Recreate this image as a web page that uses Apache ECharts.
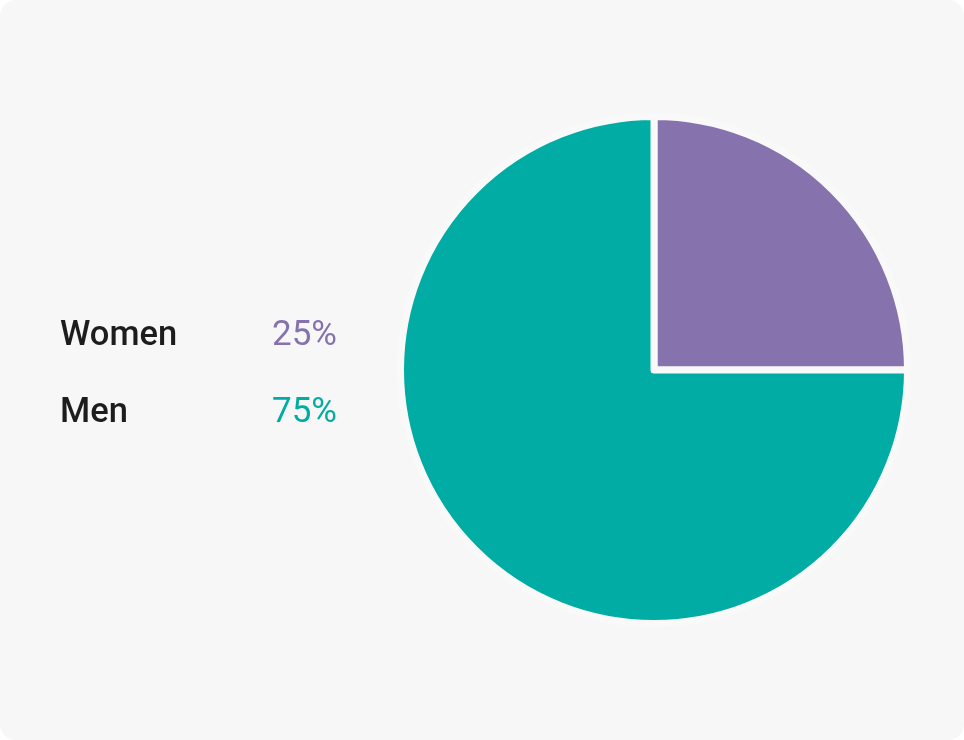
<!DOCTYPE html>
<html>
<head>
<meta charset="utf-8">
<script src="https://cdn.jsdelivr.net/npm/echarts@6/dist/echarts.min.js"></script>
<style>
html,body{margin:0;padding:0;background:#ffffff;}
#chart{width:964px;height:740px;background:#f7f7f7;border-radius:16px;overflow:hidden;}
</style>
</head>
<body>
<div id="chart"></div>
<script>
const categories = ['Women', 'Men'];
const values = [25, 75];
const colors = ['#8673ae', '#00aca3'];

const chart = echarts.init(document.getElementById('chart'), null, {renderer: 'canvas'});
const total = values.reduce((a, b) => a + b, 0);
const rich = {
  name: {fontFamily: 'Roboto', fontSize: 34.5, fontWeight: 500, color: '#1d1d1d', width: 212, lineHeight: 40}
};
categories.forEach((c, i) => {
  rich['p' + i] = {fontFamily: 'Roboto', fontSize: 35, fontWeight: 400, color: colors[i], lineHeight: 40};
});

chart.setOption({
  animation: false,
  color: colors,
  legend: {
    orient: 'vertical',
    left: 55,
    top: 316,
    padding: 0,
    icon: 'none',
    itemWidth: 0,
    itemHeight: 40,
    itemGap: 40,
    selectedMode: false,
    data: categories,
    formatter: function (name) {
      const i = categories.indexOf(name);
      return '{name|' + name + '}{p' + i + '|' + Math.round(values[i] / total * 100) + '%}';
    },
    textStyle: {rich: rich}
  },
  series: [{
    type: 'pie',
    center: [654, 370],
    radius: 253.5,
    startAngle: 90,
    clockwise: true,
    label: {show: false},
    labelLine: {show: false},
    emphasis: {disabled: true},
    itemStyle: {borderColor: '#f9f9f9', borderWidth: 7},
    data: categories.map((c, i) => ({name: c, value: values[i]}))
  }]
});
</script>
</body>
</html>
